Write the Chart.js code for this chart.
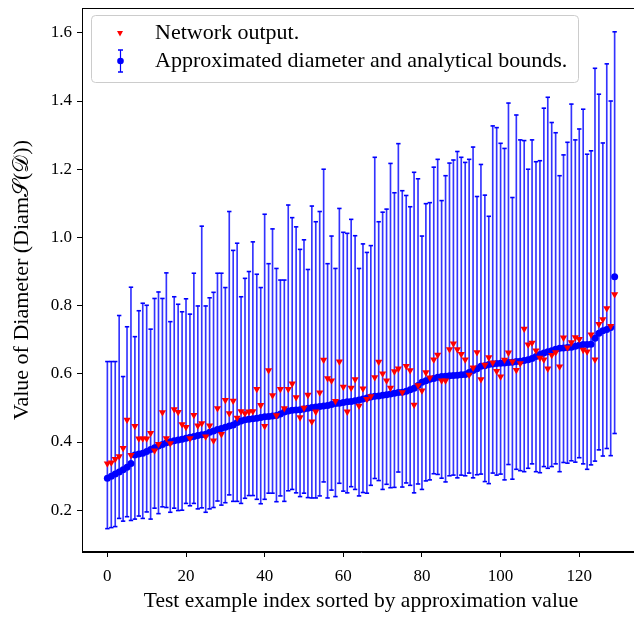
<!DOCTYPE html>
<html><head><meta charset="utf-8">
<script src="https://cdn.jsdelivr.net/npm/chart.js@4.4.1/dist/chart.umd.min.js"></script>
<style>html,body{margin:0;padding:0;background:#fff;overflow:hidden;width:634px;height:617px;} canvas{display:block;}</style>
</head><body>
<canvas id="c" width="646" height="617"></canvas>
<script>
const xTicks = [0, 20, 40, 60, 80, 100, 120];
const yTicks = [0.2, 0.4, 0.6, 0.8, 1.0, 1.2, 1.4, 1.6];

const approx = [0.294,0.300,0.306,0.312,0.319,0.326,0.337,0.362,0.365,0.367,
0.372,0.378,0.383,0.388,0.393,0.398,0.401,0.404,0.406,0.408,
0.411,0.414,0.416,0.419,0.421,0.423,0.429,0.432,0.437,0.440,
0.443,0.447,0.450,0.457,0.462,0.465,0.467,0.468,0.470,0.472,
0.474,0.475,0.476,0.478,0.482,0.488,0.491,0.493,0.494,0.495,
0.497,0.499,0.501,0.503,0.504,0.506,0.507,0.510,0.513,0.514,
0.516,0.518,0.519,0.521,0.523,0.526,0.529,0.532,0.534,0.535,
0.537,0.539,0.541,0.543,0.545,0.546,0.549,0.553,0.558,0.566,
0.575,0.580,0.584,0.586,0.590,0.592,0.593,0.594,0.595,0.596,
0.597,0.598,0.604,0.610,0.615,0.622,0.624,0.627,0.629,0.630,
0.631,0.632,0.633,0.634,0.636,0.637,0.639,0.641,0.645,0.651,
0.657,0.661,0.665,0.668,0.672,0.675,0.676,0.677,0.678,0.681,
0.684,0.686,0.686,0.687,0.704,0.719,0.726,0.730,0.736,0.885];

const network = [0.337,0.340,0.350,0.358,0.382,0.465,0.362,0.447,0.410,0.410,
0.410,0.426,0.375,0.394,0.487,0.411,0.396,0.496,0.488,0.452,
0.444,0.411,0.479,0.448,0.455,0.416,0.448,0.404,0.499,0.423,
0.523,0.484,0.521,0.471,0.490,0.484,0.489,0.490,0.555,0.508,
0.447,0.610,0.537,0.478,0.555,0.499,0.555,0.571,0.531,0.472,
0.500,0.538,0.460,0.489,0.545,0.641,0.587,0.580,0.520,0.636,
0.562,0.489,0.559,0.584,0.506,0.557,0.526,0.534,0.590,0.635,
0.601,0.580,0.559,0.607,0.615,0.546,0.623,0.610,0.509,0.566,
0.551,0.604,0.589,0.642,0.656,0.580,0.580,0.672,0.689,0.672,
0.658,0.642,0.597,0.618,0.663,0.584,0.626,0.648,0.633,0.608,
0.592,0.641,0.662,0.636,0.611,0.631,0.732,0.686,0.691,0.668,
0.647,0.642,0.615,0.655,0.663,0.621,0.706,0.677,0.692,0.707,
0.702,0.670,0.665,0.715,0.642,0.746,0.760,0.792,0.740,0.833];

const lowerBound = [0.146,0.149,0.152,0.176,0.168,0.181,0.170,0.174,0.183,0.176,
0.195,0.174,0.206,0.190,0.210,0.208,0.194,0.206,0.199,0.200,
0.220,0.213,0.220,0.204,0.207,0.194,0.204,0.208,0.227,0.215,
0.222,0.245,0.226,0.226,0.220,0.235,0.243,0.243,0.232,0.219,
0.232,0.250,0.250,0.225,0.242,0.226,0.257,0.261,0.251,0.240,
0.250,0.237,0.236,0.236,0.242,0.283,0.236,0.259,0.240,0.279,
0.256,0.251,0.269,0.261,0.242,0.252,0.250,0.273,0.293,0.287,
0.261,0.276,0.266,0.267,0.312,0.268,0.280,0.273,0.251,0.277,
0.261,0.286,0.289,0.307,0.305,0.294,0.283,0.301,0.303,0.295,
0.303,0.301,0.309,0.295,0.304,0.306,0.284,0.278,0.309,0.303,
0.306,0.289,0.334,0.291,0.320,0.316,0.313,0.323,0.336,0.313,
0.310,0.328,0.323,0.328,0.336,0.313,0.340,0.338,0.345,0.341,
0.354,0.336,0.320,0.333,0.344,0.377,0.359,0.381,0.360,0.425];

const upperBound = [0.636,0.636,0.636,0.771,0.592,0.738,0.854,0.709,0.785,0.807,
0.801,0.731,0.821,0.840,0.821,0.896,0.753,0.826,0.804,0.782,
0.820,0.775,0.895,0.799,1.033,0.799,0.823,0.839,0.895,0.895,
0.853,1.076,0.962,0.983,0.826,0.880,0.900,0.987,0.892,0.853,
1.068,0.923,1.025,0.909,0.875,0.875,1.095,1.058,1.031,0.965,
0.993,0.906,1.092,1.046,1.076,1.200,0.923,1.004,0.909,1.085,
1.015,1.012,1.053,1.005,0.909,0.981,0.956,0.976,1.235,1.046,
1.074,1.083,1.217,1.131,1.275,1.137,1.123,1.090,1.191,1.172,
1.004,1.099,1.102,1.206,1.229,1.108,1.181,1.218,1.227,1.252,
1.235,1.220,1.229,1.265,1.120,1.214,1.124,1.062,1.327,1.322,
1.276,1.261,1.394,1.117,1.359,1.286,1.284,1.200,1.286,1.222,
1.225,1.379,1.411,1.337,1.307,1.181,1.242,1.279,1.391,1.286,
1.318,1.376,1.244,1.254,1.496,1.420,1.277,1.509,1.400,1.603];

const legendLabels = ["Network output.", "Approximated diameter and analytical bounds."];
const xTitle = "Test example index sorted by approximation value";
const yTitle = "Value of Diameter (Diam\u{1D4AE}(\u{1D49F}))";

const indices = approx.map((_, i) => i);
const BLUE = '#0000ff', RED = '#ff0000';
const SERIF = "'Liberation Serif', 'DejaVu Serif', serif";

const frame = {
  id: 'frame',
  afterDatasetsDraw(chart) {
    const {ctx, chartArea: a} = chart;
    ctx.save();
    ctx.strokeStyle = '#000'; ctx.lineWidth = 1;
    ctx.strokeRect(Math.round(a.left) + 0.5, Math.round(a.top) + 0.5,
      Math.round(a.right - a.left) - 1, Math.round(a.bottom - a.top) - 1);
    ctx.restore();
  }
};

const legendBox = {
  id: 'legendBox',
  afterDraw(chart) {
    const ctx = chart.ctx;
    ctx.save();
    const x0 = 91.5, y0 = 15.5, w = 487, h = 67, r = 4;
    ctx.beginPath();
    ctx.moveTo(x0 + r, y0);
    ctx.arcTo(x0 + w, y0, x0 + w, y0 + h, r);
    ctx.arcTo(x0 + w, y0 + h, x0, y0 + h, r);
    ctx.arcTo(x0, y0 + h, x0, y0, r);
    ctx.arcTo(x0, y0, x0 + w, y0, r);
    ctx.closePath();
    ctx.fillStyle = 'rgba(255,255,255,0.8)';
    ctx.fill();
    ctx.strokeStyle = '#cccccc'; ctx.lineWidth = 1; ctx.stroke();
    ctx.fillStyle = RED;
    ctx.beginPath();
    ctx.moveTo(117, 31); ctx.lineTo(123, 31); ctx.lineTo(120, 36.5); ctx.closePath(); ctx.fill();
    ctx.strokeStyle = BLUE; ctx.lineWidth = 1.2;
    ctx.beginPath(); ctx.moveTo(120.5, 50); ctx.lineTo(120.5, 72); ctx.stroke();
    ctx.lineWidth = 1.5;
    ctx.beginPath(); ctx.moveTo(118, 50); ctx.lineTo(123, 50); ctx.moveTo(118, 72); ctx.lineTo(123, 72); ctx.stroke();
    ctx.fillStyle = BLUE;
    ctx.beginPath(); ctx.arc(120.5, 61, 3.3, 0, Math.PI * 2); ctx.fill();
    ctx.fillStyle = '#000';
    ctx.font = "22px " + SERIF;
    ctx.textBaseline = 'middle';
    ctx.fillText(legendLabels[0], 155, 33);
    ctx.fillText(legendLabels[1], 155, 61);
    ctx.restore();
  }
};

const capPoints = indices.map(i => ({x: i, y: lowerBound[i]})).concat(indices.map(i => ({x: i, y: upperBound[i]})));

new Chart(document.getElementById('c'), {
  data: {
    datasets: [
      {
        type: 'scatter', label: legendLabels[0], order: 0,
        data: indices.map(i => ({x: i, y: network[i]})),
        pointStyle: 'triangle', rotation: 180, pointRadius: 4.2,
        backgroundColor: RED, borderColor: RED, borderWidth: 0
      },
      {
        type: 'scatter', label: legendLabels[1], order: 1,
        data: indices.map(i => ({x: i, y: approx[i]})),
        pointStyle: 'circle', pointRadius: 3.5,
        backgroundColor: BLUE, borderColor: BLUE, borderWidth: 0
      },
      {
        type: 'scatter', label: 'caps', order: 2,
        data: capPoints,
        pointStyle: 'line', pointRadius: 2.2,
        borderColor: BLUE, borderWidth: 1.6
      },
      {
        type: 'bar', label: 'bounds', order: 3,
        data: indices.map(i => ({x: i, y: [lowerBound[i], upperBound[i]]})),
        backgroundColor: 'rgba(0,0,255,0.8)', borderWidth: 0,
        barThickness: 1, grouped: false
      }
    ]
  },
  options: {
    responsive: false, animation: false, devicePixelRatio: 1,
    layout: {padding: {left: 0, top: 8, right: 6, bottom: 0}},
    plugins: {legend: {display: false}, tooltip: {enabled: false}},
    scales: {
      x: {
        type: 'linear', min: -6.45, max: 135.45, offset: false,
        afterBuildTicks: s => { s.ticks = xTicks.map(v => ({value: v})); },
        afterFit: s => { s.height = 65; s.paddingLeft = 0; s.paddingRight = 0; },
        ticks: {color: '#000', font: {family: SERIF, size: 17}, padding: 9, maxRotation: 0,
                callback: v => String(v)},
        grid: {display: true, offset: false, drawOnChartArea: false, drawTicks: true, tickLength: 5, color: '#000'},
        border: {display: true, color: '#000'},
        title: {display: true, text: xTitle, color: '#000', font: {family: SERIF, size: 21.5},
                padding: {top: 0, bottom: 3}}
      },
      y: {
        type: 'linear', min: 0.0775, max: 1.6728,
        afterBuildTicks: s => { s.ticks = yTicks.map(v => ({value: v})); },
        afterFit: s => { s.width = 82; s.paddingTop = 0; s.paddingBottom = 0; },
        ticks: {color: '#000', font: {family: SERIF, size: 17}, padding: 5,
                callback: v => Number(v).toFixed(1)},
        grid: {display: true, drawOnChartArea: false, drawTicks: true, tickLength: 5, color: '#000'},
        border: {display: true, color: '#000'},
        title: {display: true, text: yTitle, color: '#000', font: {family: SERIF, size: 22},
                padding: {top: 9, bottom: 0}}
      }
    }
  },
  plugins: [frame, legendBox]
});
</script>
</body></html>
